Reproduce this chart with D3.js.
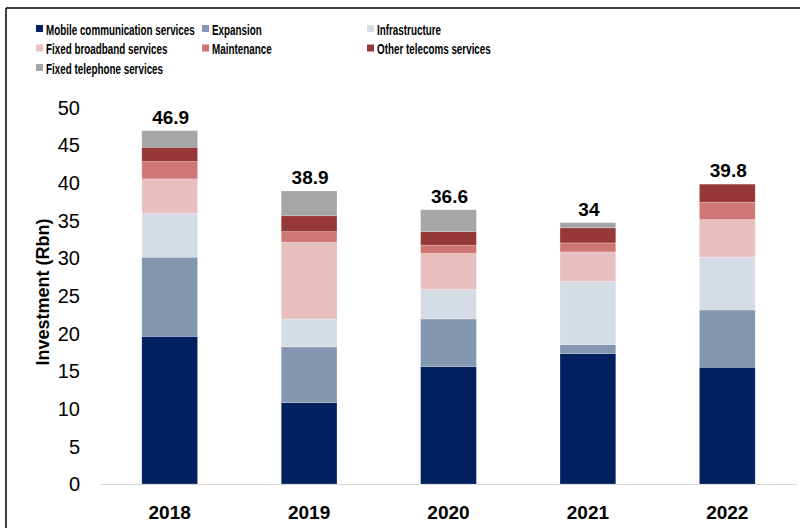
<!DOCTYPE html>
<html>
<head>
<meta charset="utf-8">
<script src="https://cdn.jsdelivr.net/npm/d3@7"></script>
<style>
  body { margin: 0; background: #fff; }
  text { font-family: "Liberation Sans", Arial, sans-serif; }
</style>
</head>
<body>
<div id="chart"></div>
<script>
var years = ["2018", "2019", "2020", "2021", "2022"];
var seriesNames = ["Mobile communication services", "Expansion", "Infrastructure",
  "Fixed broadband services", "Maintenance", "Other telecoms services", "Fixed telephone services"];
var mobile = [19.6, 10.8, 15.6, 17.3, 15.5];
var expansion = [10.5, 7.4, 6.3, 1.2, 7.6];
var infrastructure = [5.8, 3.7, 3.9, 8.4, 7.0];
var fixedBroadband = [4.6, 10.2, 4.8, 3.9, 5.0];
var maintenance = [2.3, 1.4, 1.1, 1.2, 2.3];
var otherTelecoms = [1.9, 2.1, 1.8, 2.0, 2.4];
var fixedTelephone = [2.2, 3.3, 2.9, 0.7, 0];
var totalLabels = ["46.9", "38.9", "36.6", "34", "39.8"];
var yTicks = [0, 5, 10, 15, 20, 25, 30, 35, 40, 45, 50];

var colors = ["#002060", "#8497B0", "#D6DCE5", "#E8BFBF", "#CF7775", "#963838", "#A6A6A6"];
var allSeries = [mobile, expansion, infrastructure, fixedBroadband, maintenance, otherTelecoms, fixedTelephone];

var width = 800, height = 528;
var svg = d3.select("#chart").append("svg")
  .attr("width", width)
  .attr("height", height);

svg.append("rect").attr("width", width).attr("height", height).attr("fill", "white");

// frame: only top and left edges show
svg.append("line").attr("x1", 6).attr("y1", 8).attr("x2", width).attr("y2", 8)
  .attr("stroke", "#000").attr("stroke-width", 1.5);
svg.append("line").attr("x1", 6).attr("y1", 8).attr("x2", 6).attr("y2", height)
  .attr("stroke", "#000").attr("stroke-width", 1.5);

// table for stacking
var rows = years.map(function (y, i) {
  var r = { year: y };
  seriesNames.forEach(function (n, j) { r[n] = allSeries[j][i]; });
  return r;
});
var stacked = d3.stack().keys(seriesNames)(rows);

var x = d3.scaleBand().domain(years).range([100, 797]).paddingInner(0.6).paddingOuter(0.3);
var y = d3.scaleLinear().domain([0, 50]).range([484, 107.3]);

// y tick labels (no axis line)
svg.append("g").selectAll("text").data(yTicks).enter().append("text")
  .attr("x", 80)
  .attr("y", function (d) { return y(d); })
  .attr("dy", "0.36em")
  .attr("text-anchor", "end")
  .attr("font-size", 20)
  .attr("fill", "#000")
  .text(function (d) { return d; });

svg.append("text")
  .attr("transform", "translate(49,292) rotate(-90)")
  .attr("text-anchor", "middle")
  .attr("font-size", 18)
  .attr("font-weight", "bold")
  .attr("fill", "#000")
  .text("Investment (Rbn)");

// bars
svg.append("g").selectAll("g").data(stacked).enter().append("g")
  .attr("fill", function (d, i) { return colors[i]; })
  .selectAll("rect").data(function (d) { return d; }).enter().append("rect")
  .attr("x", function (d) { return x(d.data.year); })
  .attr("width", x.bandwidth())
  .attr("y", function (d) { return y(d[1]); })
  .attr("height", function (d) { return y(d[0]) - y(d[1]); })
  .attr("stroke", "#fff")
  .attr("stroke-opacity", 0.35)
  .attr("stroke-width", 0.6);

// x baseline
svg.append("line").attr("x1", 100).attr("x2", 797).attr("y1", 484.5).attr("y2", 484.5)
  .attr("stroke", "#d9d9d9").attr("stroke-width", 1);

// x labels
svg.append("g").selectAll("text").data(years).enter().append("text")
  .attr("x", function (d) { return x(d) + x.bandwidth() / 2; })
  .attr("y", 519)
  .attr("text-anchor", "middle")
  .attr("font-size", 19)
  .attr("font-weight", "bold")
  .attr("fill", "#000")
  .text(function (d) { return d; });

// totals
var topStack = stacked[stacked.length - 1];
svg.append("g").selectAll("text").data(topStack).enter().append("text")
  .attr("x", function (d) { return x(d.data.year) + x.bandwidth() / 2 + 1; })
  .attr("y", function (d) { return y(d[1]) - 7; })
  .attr("text-anchor", "middle")
  .attr("font-size", 19)
  .attr("font-weight", "bold")
  .attr("fill", "#000")
  .text(function (d, i) { return totalLabels[i]; });

// legend (narrow font look: squeeze text horizontally)
var legendPos = [[36, 29], [202, 29], [367, 29], [36, 48.5], [202, 48.5], [367, 48.5], [36, 68]];
var legend = svg.append("g").selectAll("g").data(seriesNames).enter().append("g")
  .attr("transform", function (d, i) { return "translate(" + legendPos[i][0] + "," + legendPos[i][1] + ")"; });
legend.append("rect")
  .attr("x", 0).attr("y", -4).attr("width", 7).attr("height", 7)
  .attr("fill", function (d, i) { return colors[i]; });
var legendText = legend.append("text")
  .attr("dy", "0.36em")
  .attr("font-size", 15.5)
  .attr("font-weight", "bold")
  .attr("fill", "#000")
  .text(function (d) { return d; });
var squeeze = 149 / legendText.node().getComputedTextLength();
legendText.attr("transform", "translate(10,0) scale(" + squeeze + ",1)");
</script>
</body>
</html>
